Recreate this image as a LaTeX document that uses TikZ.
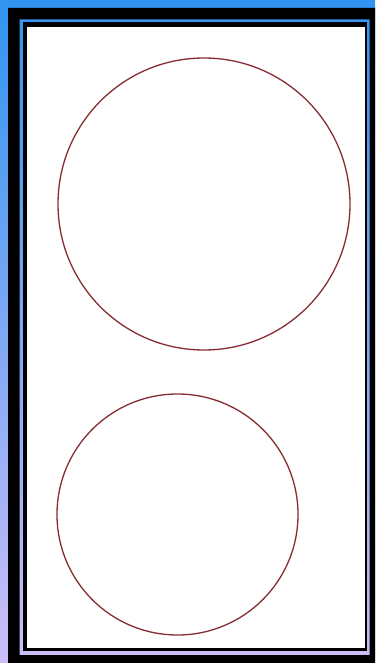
\documentclass[tikz,border=0pt]{standalone}
\usepackage{tikz}
\definecolor{topblue}{RGB}{48,148,240}
\definecolor{botlav}{RGB}{205,190,248}
\definecolor{ringred}{RGB}{135,45,50}
\tikzset{ring/.style={circle, draw=ringred, line width=1.3pt, inner sep=0pt}}
\begin{document}
\begin{tikzpicture}[x=1pt,y=-1pt]
\useasboundingbox (0,0) rectangle (375,663);
\shade[top color=topblue, bottom color=botlav] (0,0) rectangle (375,663);
\fill[black, even odd rule] (8,8) rectangle (375,663) (19.5,19.5) rectangle (369.5,655);
\fill[black] (22.5,22.5) rectangle (367,651);
\fill[white] (27,27) rectangle (365,647.5);
\node[ring, minimum size=292pt] (top) at (204,204) {};
\node[ring, minimum size=241pt] (bottom) at (177.5,514.5) {};
\end{tikzpicture}
\end{document}
